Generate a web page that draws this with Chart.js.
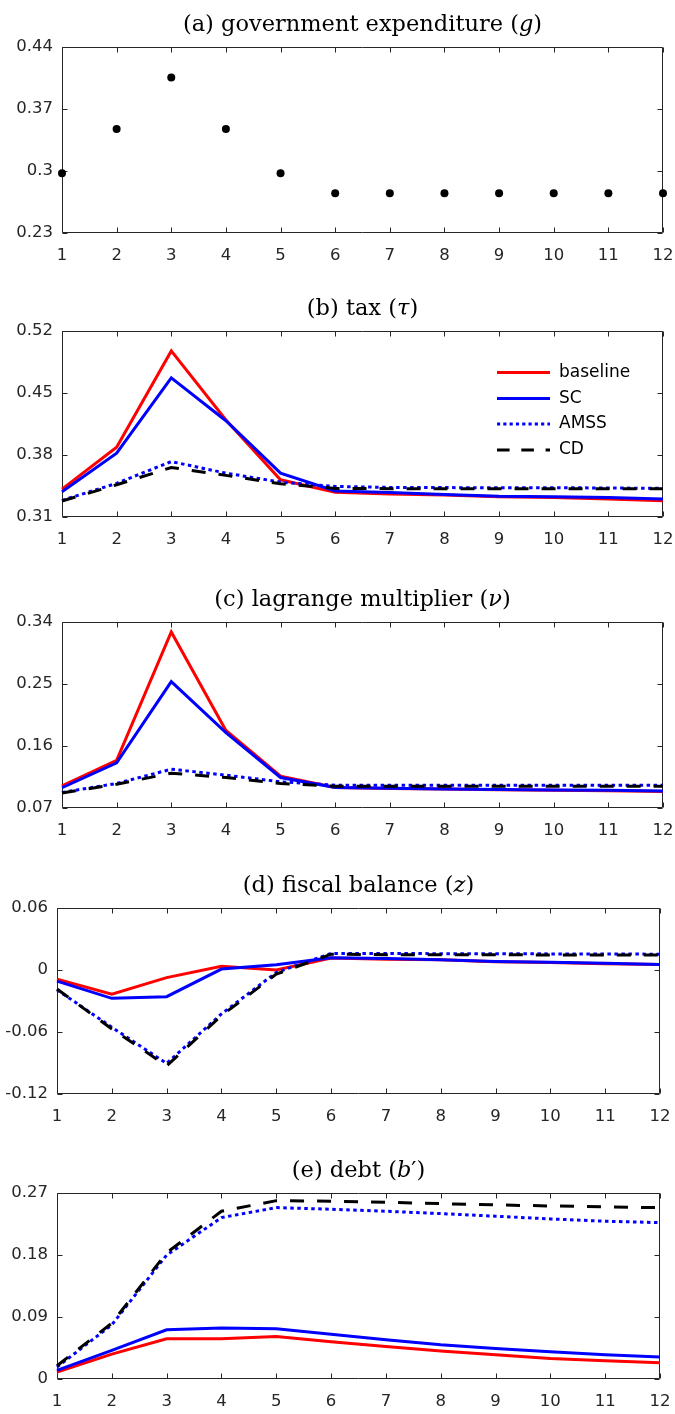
<!DOCTYPE html>
<html>
<head>
<meta charset="utf-8">
<title>Fiscal policy responses</title>
<script src="https://cdn.jsdelivr.net/npm/chart.js@4.4.1/dist/chart.umd.min.js"></script>
<style>
  body { margin: 0; background: #fff; }
  #figure { position: relative; width: 675px; height: 1414px; overflow: hidden; }
  #figure canvas { position: absolute; left: 0; }
</style>
</head>
<body>
<div id="figure"></div>
<script>
// horizon
const periods = ['1', '2', '3', '4', '5', '6', '7', '8', '9', '10', '11', '12'];

// (a) government expenditure
const govSpending = [0.2975, 0.3475, 0.4055, 0.3475, 0.2975, 0.275, 0.275, 0.275, 0.275, 0.275, 0.275, 0.275];
const govTicks = [0.23, 0.30, 0.37, 0.44];
const govTickLabels = ['0.23', '0.3', '0.37', '0.44'];

// (b) tax
const taxBaseline = [0.3415, 0.3888, 0.4975, 0.4195, 0.3520, 0.3378, 0.3359, 0.3348, 0.3329, 0.3321, 0.3303, 0.3284];
const taxSC = [0.3385, 0.3820, 0.4671, 0.4187, 0.3595, 0.3393, 0.3378, 0.3355, 0.3333, 0.3329, 0.3321, 0.3303];
const taxAMSS = [0.3288, 0.3480, 0.3726, 0.3595, 0.3494, 0.3445, 0.3434, 0.3432, 0.3430, 0.3430, 0.3428, 0.3423];
const taxCD = [0.3280, 0.3464, 0.3659, 0.3570, 0.3475, 0.3423, 0.3420, 0.3420, 0.3419, 0.3419, 0.3419, 0.3419];
const taxTicks = [0.31, 0.38, 0.45, 0.52];
const taxTickLabels = ['0.31', '0.38', '0.45', '0.52'];

// (c) lagrange multiplier
const nuBaseline = [0.1022, 0.1393, 0.3256, 0.1826, 0.1162, 0.0998, 0.0984, 0.0974, 0.0965, 0.0958, 0.0950, 0.0940];
const nuSC = [0.0994, 0.1355, 0.2534, 0.1793, 0.1143, 0.0998, 0.0986, 0.0976, 0.0968, 0.0962, 0.0956, 0.0948];
const nuAMSS = [0.0926, 0.1056, 0.1263, 0.1177, 0.1080, 0.1032, 0.1032, 0.1032, 0.1032, 0.1032, 0.1032, 0.1032];
const nuCD = [0.0917, 0.1046, 0.1205, 0.1143, 0.1056, 0.1017, 0.1017, 0.1017, 0.1017, 0.1017, 0.1017, 0.1017];
const nuTicks = [0.07, 0.16, 0.25, 0.34];
const nuTickLabels = ['0.07', '0.16', '0.25', '0.34'];

// (d) fiscal balance
const balBaseline = [-0.0088, -0.0233, -0.0074, 0.0037, 0.0000, 0.0115, 0.0105, 0.0099, 0.0080, 0.0073, 0.0060, 0.0054];
const balSC = [-0.0107, -0.0274, -0.0258, 0.0009, 0.0050, 0.0118, 0.0111, 0.0099, 0.0083, 0.0076, 0.0066, 0.0054];
const balAMSS = [-0.0191, -0.0554, -0.0904, -0.0425, -0.0024, 0.0160, 0.0160, 0.0158, 0.0157, 0.0156, 0.0155, 0.0153];
const balCD = [-0.0184, -0.0570, -0.0927, -0.0441, -0.0040, 0.0153, 0.0148, 0.0147, 0.0147, 0.0146, 0.0146, 0.0145];
const balTicks = [-0.12, -0.06, 0, 0.06];
const balTickLabels = ['-0.12', '-0.06', '0', '0.06'];

// (e) debt
const debtBaseline = [0.0101, 0.0362, 0.0583, 0.0583, 0.0617, 0.0540, 0.0473, 0.0405, 0.0352, 0.0299, 0.0265, 0.0236];
const debtSC = [0.0125, 0.0415, 0.0714, 0.0742, 0.0728, 0.0651, 0.0569, 0.0497, 0.0444, 0.0395, 0.0352, 0.0318];
const debtAMSS = [0.0174, 0.0786, 0.1798, 0.2343, 0.2488, 0.2464, 0.2435, 0.2401, 0.2363, 0.2324, 0.2290, 0.2270];
const debtCD = [0.0193, 0.0810, 0.1832, 0.2435, 0.2589, 0.2580, 0.2565, 0.2546, 0.2527, 0.2512, 0.2498, 0.2487];
const debtTicks = [0, 0.09, 0.18, 0.27];
const debtTickLabels = ['0', '0.09', '0.18', '0.27'];

const AXIS_COLOR = '#262626';
const TICK_FONT = { family: 'DejaVu Sans', size: 16.5 };
const TITLE_SIZE = 22.5;
const TOP_SPACE = 47;     // room above the axes for the title
const PLOT_H = 186;
const BOTTOM_SPACE = 42;  // room below the axes for x labels

// four model variants, same look in every panel
function modelSeries(baseline, sc, amss, cd) {
  return [
    { label: 'baseline', data: baseline, borderColor: '#ff0000', borderWidth: 3, order: 4 },
    { label: 'SC', data: sc, borderColor: '#0000ff', borderWidth: 3, order: 3 },
    { label: 'AMSS', data: amss, borderColor: '#0000ff', borderWidth: 3, borderDash: [3.5, 3.5], order: 2 },
    { label: 'CD', data: cd, borderColor: '#000000', borderWidth: 3, borderDash: [14, 13], order: 1 }
  ].map(function(d) {
    return Object.assign({ pointRadius: 0, tension: 0, fill: false, borderCapStyle: 'butt' }, d);
  });
}

const panels = [
  {
    title: [['(a) government expenditure (', false], ['g', true], [')', false]],
    top: 47, left: 62, right: 663,
    ticks: govTicks, tickLabels: govTickLabels,
    datasets: [{
      label: 'g', data: govSpending, showLine: false, clip: false,
      pointRadius: 4, pointBackgroundColor: '#000', pointBorderWidth: 0
    }]
  },
  {
    title: [['(b) tax (', false], ['\u03c4', true], [')', false]],
    top: 331, left: 62, right: 663,
    ticks: taxTicks, tickLabels: taxTickLabels,
    datasets: modelSeries(taxBaseline, taxSC, taxAMSS, taxCD),
    legend: true
  },
  {
    title: [['(c) lagrange multiplier (', false], ['\u03bd', true], [')', false]],
    top: 622, left: 62, right: 663,
    ticks: nuTicks, tickLabels: nuTickLabels,
    datasets: modelSeries(nuBaseline, nuSC, nuAMSS, nuCD)
  },
  {
    title: [['(d) fiscal balance (', false], ['z', true], [')', false]],
    top: 908, left: 57, right: 660,
    ticks: balTicks, tickLabels: balTickLabels,
    datasets: modelSeries(balBaseline, balSC, balAMSS, balCD)
  },
  {
    title: [['(e) debt (', false], ['b', true], ['\u2032)', false]],
    top: 1193, left: 57, right: 660,
    ticks: debtTicks, tickLabels: debtTickLabels,
    datasets: modelSeries(debtBaseline, debtSC, debtAMSS, debtCD)
  }
];

// box around the axes with short inward ticks on all four sides
const boxAxes = {
  id: 'boxAxes',
  beforeDatasetsDraw(chart) {
    const ctx = chart.ctx;
    const a = chart.chartArea;
    const L = Math.round(a.left) + 0.5, R = Math.round(a.right) - 0.5;
    const T = Math.round(a.top) + 0.5, B = Math.round(a.bottom) - 0.5;
    const len = 5;
    ctx.save();
    ctx.strokeStyle = AXIS_COLOR;
    ctx.lineWidth = 1;
    ctx.beginPath();
    ctx.rect(L, T, R - L, B - T);
    chart.scales.x.ticks.forEach(function(t, i) {
      const px = Math.round(chart.scales.x.getPixelForTick(i)) + 0.5;
      ctx.moveTo(px, B); ctx.lineTo(px, B - len);
      ctx.moveTo(px, T); ctx.lineTo(px, T + len);
    });
    chart.scales.y.ticks.forEach(function(t) {
      const py = Math.round(chart.scales.y.getPixelForValue(t.value)) + 0.5;
      ctx.moveTo(L, py); ctx.lineTo(L + len, py);
      ctx.moveTo(R, py); ctx.lineTo(R - len, py);
    });
    ctx.stroke();
    ctx.restore();
  }
};

// serif title with the math symbol in italics, centred over the axes
const mathTitle = {
  id: 'mathTitle',
  afterDraw(chart, args, opts) {
    const parts = opts.parts || [];
    const ctx = chart.ctx;
    const fontFor = function(it) {
      return (it ? 'italic ' : '') + TITLE_SIZE + 'px "DejaVu Serif"';
    };
    ctx.save();
    let width = 0;
    parts.forEach(function(p) { ctx.font = fontFor(p[1]); width += ctx.measureText(p[0]).width; });
    let x = (chart.chartArea.left + chart.chartArea.right) / 2 - width / 2;
    const y = chart.chartArea.top - 16;
    ctx.fillStyle = '#000';
    ctx.textBaseline = 'alphabetic';
    ctx.textAlign = 'left';
    parts.forEach(function(p) {
      ctx.font = fontFor(p[1]);
      ctx.fillText(p[0], x, y);
      x += ctx.measureText(p[0]).width;
    });
    ctx.restore();
  }
};

// line-sample legend in the upper right of the tax panel
const lineLegend = {
  id: 'lineLegend',
  afterDraw(chart, args, opts) {
    if (!opts.show) return;
    const ctx = chart.ctx;
    const top = chart.chartArea.top;
    const rows = [41.5, 67.5, 93, 119];
    ctx.save();
    ctx.font = '17px "DejaVu Sans"';
    ctx.textBaseline = 'middle';
    ctx.fillStyle = '#000';
    chart.data.datasets.forEach(function(ds, i) {
      const y = top + rows[i];
      ctx.beginPath();
      ctx.strokeStyle = ds.borderColor;
      ctx.lineWidth = ds.borderWidth;
      ctx.setLineDash(ds.borderDash ? [ds.borderDash[0] * 0.9, ds.borderDash[1] * 0.9] : []);
      ctx.moveTo(497, y);
      ctx.lineTo(550, y);
      ctx.stroke();
      ctx.setLineDash([]);
      ctx.fillText(ds.label, 559, y);
    });
    ctx.restore();
  }
};

const figure = document.getElementById('figure');

panels.forEach(function(p) {
  const canvas = document.createElement('canvas');
  const h = TOP_SPACE + PLOT_H + BOTTOM_SPACE;
  canvas.width = 675;
  canvas.height = h;
  canvas.style.width = '675px';
  canvas.style.height = h + 'px';
  canvas.style.top = (p.top - TOP_SPACE) + 'px';
  figure.appendChild(canvas);

  new Chart(canvas, {
    type: 'line',
    data: { labels: periods, datasets: p.datasets },
    options: {
      responsive: false,
      animation: false,
      devicePixelRatio: 1,
      layout: { padding: { top: TOP_SPACE, right: 675 - p.right, left: 0, bottom: 0 } },
      plugins: {
        legend: { display: false },
        tooltip: { enabled: false },
        mathTitle: { parts: p.title },
        lineLegend: { show: !!p.legend }
      },
      scales: {
        x: {
          type: 'category',
          offset: false,
          grid: { display: false, drawTicks: false },
          border: { display: false },
          ticks: { autoSkip: false, maxRotation: 0, padding: 13, color: AXIS_COLOR, font: TICK_FONT },
          afterFit: function(s) {
            // last label may hang past the frame; keep the axes width fixed
            s.height = BOTTOM_SPACE;
            s.paddingLeft = 0;
            s.paddingRight = 0;
          }
        },
        y: {
          min: p.ticks[0],
          max: p.ticks[p.ticks.length - 1],
          grid: { display: false, drawTicks: false },
          border: { display: false },
          ticks: {
            padding: 9, color: AXIS_COLOR, font: TICK_FONT,
            callback: function(v, i) { return p.tickLabels[i]; }
          },
          afterBuildTicks: function(s) { s.ticks = p.ticks.map(function(v) { return { value: v }; }); },
          afterFit: function(s) {
            s.width = p.left;
            s.paddingTop = 0;
            s.paddingBottom = 0;
          }
        }
      }
    },
    plugins: [boxAxes, mathTitle, lineLegend]
  });
});
</script>
</body>
</html>
